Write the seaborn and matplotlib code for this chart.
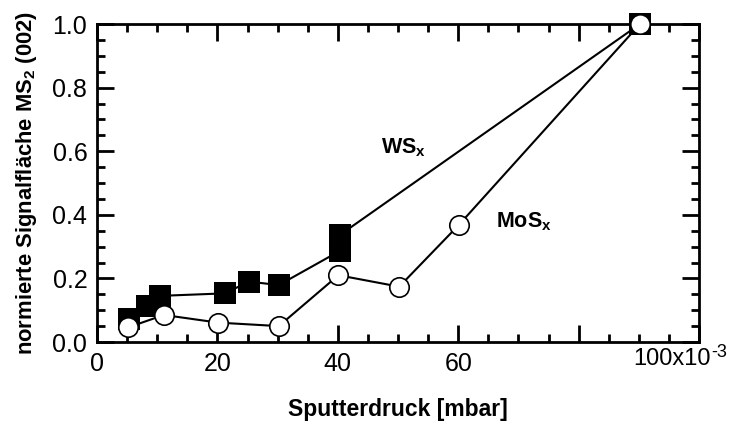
import matplotlib
matplotlib.use("Agg")
import matplotlib.pyplot as plt
import seaborn as sns
import pandas as pd
from matplotlib.ticker import MultipleLocator, FixedLocator

# Data (x in 10^-3 mbar)
ws_x = [5.3, 8.3, 10.4, 21.3, 25.2, 30.2, 40.3, 40.3, 90.2]
ws_y = [0.072, 0.113, 0.145, 0.153, 0.190, 0.179, 0.286, 0.336, 1.0]
mos_x = [5.2, 11.1, 20.1, 30.2, 40.1, 50.2, 60.1, 90.2]
mos_y = [0.046, 0.085, 0.061, 0.050, 0.210, 0.174, 0.368, 1.0]
x_ticks = [0, 20, 40, 60, 80, 100]
x_tick_labels = ["0", "20", "40", "60", "", ""]
y_ticks = [0.0, 0.2, 0.4, 0.6, 0.8, 1.0]
y_tick_labels = ["0.0", "0.2", "0.4", "0.6", "0.8", "1.0"]

sns.set_style("ticks")
plt.rcParams["font.family"] = ["Liberation Sans", "DejaVu Sans"]
plt.rcParams["mathtext.fontset"] = "custom"
plt.rcParams["mathtext.rm"] = "Liberation Sans"
plt.rcParams["mathtext.it"] = "Liberation Sans:italic"
plt.rcParams["mathtext.bf"] = "Liberation Sans:bold"
plt.rcParams["text.color"] = "black"
plt.rcParams["axes.labelcolor"] = "black"
plt.rcParams["xtick.color"] = "black"
plt.rcParams["ytick.color"] = "black"

fig = plt.figure(figsize=(7.44, 4.28), dpi=100)
ax = fig.add_axes([97 / 744, 1 - 342 / 428, (699 - 97) / 744, (342 - 24) / 428])

ws = pd.DataFrame({"x": ws_x, "y": ws_y})
mos = pd.DataFrame({"x": mos_x, "y": mos_y})

sns.lineplot(data=ws, x="x", y="y", ax=ax, estimator=None, sort=False,
             color="black", linewidth=1.5, marker="s", markersize=15.5,
             markerfacecolor="black", markeredgecolor="black", markeredgewidth=0,
             clip_on=False, zorder=3)
sns.lineplot(data=mos, x="x", y="y", ax=ax, estimator=None, sort=False,
             color="black", linewidth=1.5, marker="o", markersize=14,
             markerfacecolor="white", markeredgecolor="black", markeredgewidth=1.2,
             clip_on=False, zorder=4)

ax.set_xlim(0, 100)
ax.set_ylim(0, 1.0)
ax.xaxis.set_major_locator(FixedLocator(x_ticks))
ax.set_xticklabels(x_tick_labels)
ax.xaxis.set_minor_locator(MultipleLocator(5))
ax.yaxis.set_major_locator(FixedLocator(y_ticks))
ax.set_yticklabels(y_tick_labels)
ax.yaxis.set_minor_locator(MultipleLocator(0.05))

ax.tick_params(which="both", direction="in", top=True, right=True, width=2, colors="black")
ax.tick_params(which="major", length=12, labelsize=18, pad=7)
ax.tick_params(which="minor", length=6)
for s in ax.spines.values():
    s.set_linewidth(2)
    s.set_color("black")

base = ax.text(89.0, -0.072, "100x10", ha="left", va="baseline", fontsize=17,
               color="black", transform=ax.get_xaxis_transform())
ax.annotate("-3", xy=(1, 1), xycoords=base, xytext=(0.5, -3), textcoords="offset points",
            ha="left", va="center", fontsize=13, color="black")

ax.set_xlabel("Sputterdruck [mbar]", fontsize=16.5, fontweight="bold", labelpad=16,
              color="black")
ax.set_ylabel(r"normierte Signalfläche MS$_\mathbf{2}$ (002)", fontsize=15.8,
              fontweight="bold", labelpad=10, color="black")

ax.text(47.2, 0.61, r"WS$_\mathbf{x}$", fontsize=15.5, fontweight="bold", va="center",
        color="black")
ax.text(66.3, 0.377, r"MoS$_\mathbf{x}$", fontsize=15.5, fontweight="bold", va="center",
        color="black")

fig.savefig("out.png", dpi=100)
